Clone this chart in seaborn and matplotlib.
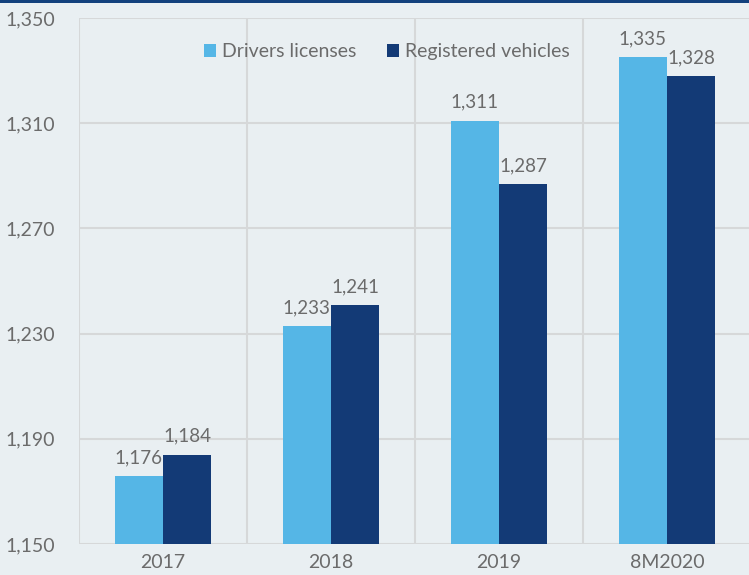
import matplotlib
matplotlib.use("Agg")
import matplotlib.pyplot as plt
import seaborn as sns
import pandas as pd
from matplotlib.patches import Rectangle, Patch
from matplotlib.ticker import FuncFormatter, FixedLocator

categories = ["2017", "2018", "2019", "8M2020"]
drivers = [1176, 1233, 1311, 1335]
vehicles = [1184, 1241, 1287, 1328]
series = ["Drivers licenses", "Registered vehicles"]
colors = ["#55b6e6", "#133a76"]
yticks = [1150, 1190, 1230, 1270, 1310, 1350]

df = pd.DataFrame({
    "cat": categories * 2,
    "val": drivers + vehicles,
    "series": [series[0]] * 4 + [series[1]] * 4,
})

bg = "#e9eff2"
txt = "#6b6b6b"
grid = "#d6d8d9"

sns.set_theme(style="white")
plt.rcParams["font.family"] = ["Lato", "DejaVu Sans"]

fig = plt.figure(figsize=(7.49, 5.75), dpi=100, facecolor=bg)
ax = fig.add_axes([79 / 749, 1 - 544 / 575, 672 / 749, 526 / 575])
ax.set_facecolor(bg)

sns.barplot(data=df, x="cat", y="val", hue="series", palette=colors,
            width=0.575, gap=0, saturation=1, ax=ax, legend=False, zorder=3,
            linewidth=0, edgecolor="none")

ax.set_ylim(1150, 1350)
ax.set_xlim(-0.5, 3.5)
ax.yaxis.set_major_locator(FixedLocator(yticks))
ax.yaxis.set_major_formatter(FuncFormatter(lambda v, p: f"{int(v):,}"))
for y in yticks:
    ax.axhline(y, color=grid, lw=1.5, zorder=1)
for xb in [-0.5, 0.5, 1.5, 2.5, 3.5]:
    ax.axvline(xb, color=grid, lw=1.5, zorder=1)
for s in ax.spines.values():
    s.set_visible(False)
ax.tick_params(axis="y", labelsize=14, colors=txt, length=0, pad=17)
ax.tick_params(axis="x", labelsize=14, colors=txt, length=0, pad=7)
ax.set_xlabel("")
ax.set_ylabel("")

for cont in ax.containers:
    ax.bar_label(cont, labels=[f"{int(v):,}" for v in cont.datavalues],
                 padding=7, fontsize=13.5, color=txt)

handles = [Patch(facecolor=c, edgecolor="none") for c in colors]
ax.legend(handles, series, loc="upper center", bbox_to_anchor=(0.458, 0.985),
          ncol=2, frameon=False, fontsize=14, handlelength=0.6, handleheight=0.7,
          handletextpad=0.3, columnspacing=1.6, labelcolor=txt)

fig.patches.append(Rectangle((0, 1 - 3 / 575), 1, 3 / 575, transform=fig.transFigure,
                             facecolor="#12417d", edgecolor="none", zorder=10))

fig.savefig("out.png", dpi=100, facecolor=bg)
